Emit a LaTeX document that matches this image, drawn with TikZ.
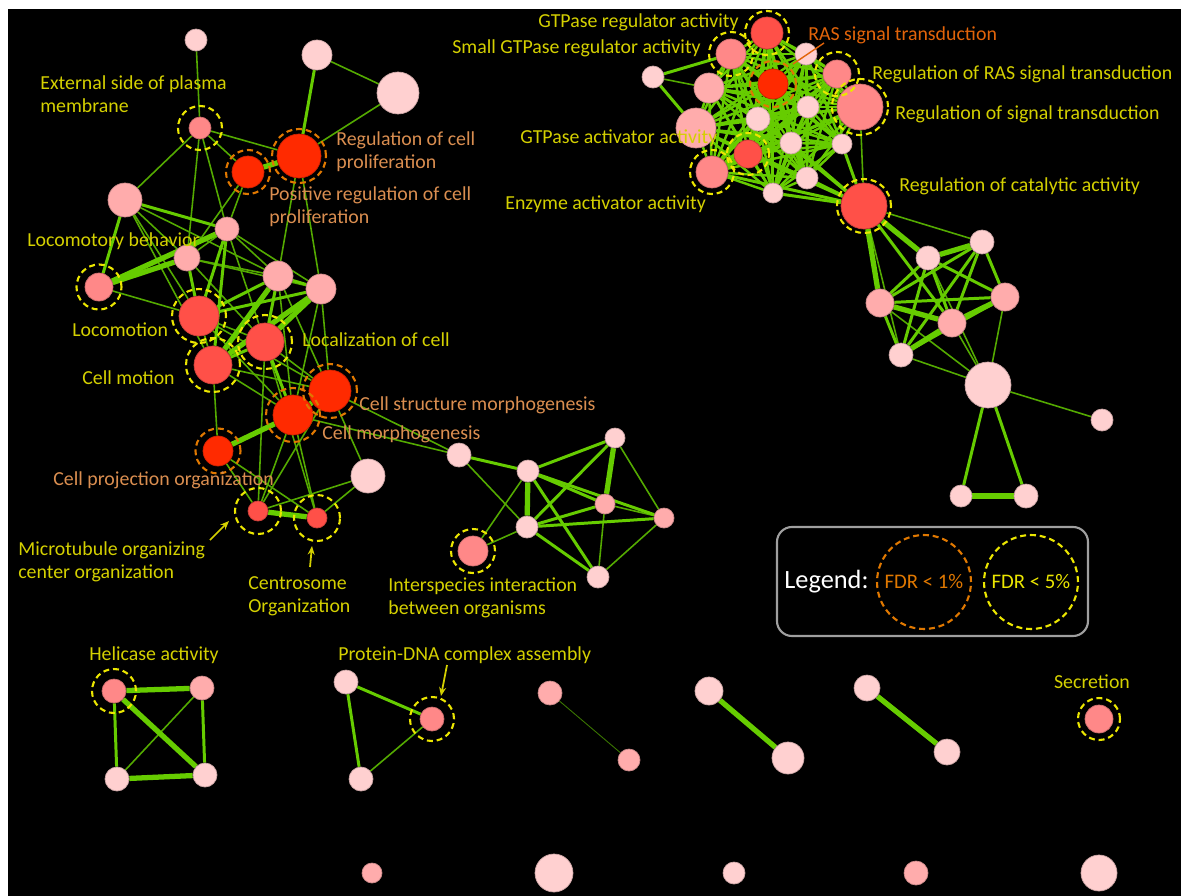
\documentclass[tikz,border=0pt]{standalone}
\usepackage{fontspec}
\setmainfont{Carlito}
\usetikzlibrary{positioning,backgrounds,arrows.meta}

\definecolor{pinkL}{RGB}{255,208,208}
\definecolor{pinkM}{RGB}{255,172,172}
\definecolor{salmon}{RGB}{255,136,136}
\definecolor{redM}{RGB}{255,80,72}
\definecolor{redH}{RGB}{255,42,0}
\definecolor{linkgreen}{RGB}{102,204,0}
\definecolor{weakgreen}{RGB}{84,170,0}
\definecolor{ringyellow}{RGB}{235,230,0}
\definecolor{ringorange}{RGB}{224,120,0}
\definecolor{labyellow}{RGB}{212,208,0}
\definecolor{laborange}{RGB}{218,142,80}
\definecolor{rasorange}{RGB}{226,100,10}

\newcommand{\lblfont}{\fontsize{11.3}{13}\selectfont}

\begin{document}
\begin{tikzpicture}
		[x=0.02cm,y=-0.02cm,
		go node/.style={shape=circle,fill=#1,draw=#1!80!black,line width=0.4pt,inner sep=0pt},
		rad/.style={minimum size=#1*0.04cm},
		weak edge/.style={draw=weakgreen,line width=0.9pt},
		mid edge/.style={draw=linkgreen,line width=1.7pt},
		strong edge/.style={draw=linkgreen,line width=3pt},
		mesh edge/.style={draw=linkgreen,line width=1.4pt},
		fdr five/.style={draw=ringyellow,line width=1.2pt,dash pattern=on 3.4pt off 2.2pt},
		fdr one/.style={draw=ringorange,line width=1.2pt,dash pattern=on 3.4pt off 2.2pt},
		yellow label/.style={text=labyellow,align=left,anchor=west,inner sep=0pt,font=\lblfont},
		orange label/.style={text=laborange,align=left,anchor=west,inner sep=0pt,font=\lblfont},
		pointer/.style={draw=labyellow,line width=1pt,-{Stealth[length=5pt,width=4pt]}}
		]
		
		\useasboundingbox (0,0) rectangle (1181,896);
		
		% proliferation / motility cluster
		\node [go node=pinkL, rad=11] (n1) at (196,40) {};
		\node [go node=pinkL, rad=15] (n2) at (317,55) {};
		\node [go node=pinkL, rad=21] (n3) at (398,93) {};
		\node [go node=salmon, rad=11] (ext) at (200,128) {};
		\node [go node=redH, rad=16] (posreg) at (248,172) {};
		\node [go node=redH, rad=22] (regprol) at (299,156) {};
		\node [go node=pinkM, rad=17] (n4) at (125,200) {};
		\node [go node=pinkM, rad=12] (n5) at (227,229) {};
		\node [go node=pinkM, rad=13] (n6) at (187,258) {};
		\node [go node=salmon, rad=14] (loco) at (99,287) {};
		\node [go node=pinkM, rad=15] (n7) at (278,276) {};
		\node [go node=pinkM, rad=15] (n8) at (321,289) {};
		\node [go node=redM, rad=20] (locomotion) at (199,316) {};
		\node [go node=redM, rad=19] (localization) at (265,342) {};
		\node [go node=redM, rad=19] (cellmotion) at (213,365) {};
		\node [go node=redH, rad=21] (cellstruct) at (330,391) {};
		\node [go node=redH, rad=20] (cellmorph) at (293,415) {};
		\node [go node=redH, rad=15] (cellproj) at (218,451) {};
		\node [go node=pinkL, rad=17] (n9) at (368,476) {};
		\node [go node=redM, rad=10] (microtub) at (258,511) {};
		\node [go node=redM, rad=10] (centro) at (317,518) {};
		
		% interspecies cluster
		\node [go node=pinkL, rad=12] (m1) at (459,455) {};
		\node [go node=pinkL, rad=11] (m2) at (528,471) {};
		\node [go node=pinkL, rad=10] (m3) at (615,438) {};
		\node [go node=pinkM, rad=10] (m4) at (605,504) {};
		\node [go node=pinkM, rad=10] (m5) at (664,518) {};
		\node [go node=pinkL, rad=11] (m6) at (527,527) {};
		\node [go node=pinkL, rad=11] (m7) at (598,577) {};
		\node [go node=salmon, rad=15] (inter) at (473,551) {};
		
		% GTPase cluster
		\node [go node=redM, rad=16] (gtpreg) at (767,33) {};
		\node [go node=salmon, rad=15] (smallgtp) at (731,54) {};
		\node [go node=pinkL, rad=11] (g1) at (653,77) {};
		\node [go node=redH, rad=15] (ras) at (773,84) {};
		\node [go node=pinkL, rad=11] (g2) at (806,54) {};
		\node [go node=salmon, rad=14] (regras) at (837,74) {};
		\node [go node=salmon, rad=23] (regsig) at (860,107) {};
		\node [go node=pinkM, rad=15] (g3) at (709,88) {};
		\node [go node=pinkM, rad=20] (gtpact) at (696,128) {};
		\node [go node=pinkL, rad=12] (g4) at (758,119) {};
		\node [go node=pinkL, rad=11] (g5) at (808,107) {};
		\node [go node=pinkL, rad=11] (g6) at (791,143) {};
		\node [go node=pinkL, rad=10] (g7) at (842,144) {};
		\node [go node=redM, rad=14] (g8) at (748,154) {};
		\node [go node=salmon, rad=16] (enzyme) at (712,172) {};
		\node [go node=pinkL, rad=11] (g9) at (807,178) {};
		\node [go node=pinkL, rad=10] (g10) at (773,193) {};
		\node [go node=redM, rad=23] (catal) at (864,206) {};
		
		% lower right cluster
		\node [go node=pinkL, rad=12] (r1) at (982,242) {};
		\node [go node=pinkL, rad=12] (r2) at (928,258) {};
		\node [go node=pinkM, rad=14] (r3) at (880,303) {};
		\node [go node=pinkM, rad=14] (r4) at (1005,297) {};
		\node [go node=pinkM, rad=14] (r5) at (952,323) {};
		\node [go node=pinkL, rad=12] (r6) at (901,355) {};
		\node [go node=pinkL, rad=23] (r7) at (988,385) {};
		\node [go node=pinkL, rad=11] (r8) at (1102,420) {};
		\node [go node=pinkL, rad=11] (r9) at (961,496) {};
		\node [go node=pinkL, rad=12] (r10) at (1026,496) {};
		
		% small groups
		\node [go node=salmon, rad=12] (hel) at (114,691) {};
		\node [go node=pinkM, rad=12] (h2) at (202,688) {};
		\node [go node=pinkL, rad=12] (h3) at (117,779) {};
		\node [go node=pinkL, rad=12] (h4) at (205,775) {};
		\node [go node=pinkL, rad=12] (p1) at (346,682) {};
		\node [go node=salmon, rad=12] (pdna) at (432,719) {};
		\node [go node=pinkL, rad=12] (p2) at (361,779) {};
		\node [go node=pinkM, rad=12] (b1) at (550,693) {};
		\node [go node=pinkM, rad=11] (b2) at (629,760) {};
		\node [go node=pinkL, rad=14] (b3) at (709,691) {};
		\node [go node=pinkL, rad=16] (b4) at (788,758) {};
		\node [go node=pinkL, rad=13] (b5) at (867,688) {};
		\node [go node=pinkL, rad=13] (b6) at (947,752) {};
		\node [go node=salmon, rad=14] (secr) at (1099,719) {};
		\node [go node=pinkM, rad=10] (z1) at (372,873) {};
		\node [go node=pinkL, rad=19] (z2) at (554,873) {};
		\node [go node=pinkL, rad=11] (z3) at (734,873) {};
		\node [go node=pinkM, rad=12] (z4) at (916,873) {};
		\node [go node=pinkL, rad=18] (z5) at (1099,873) {};
		
		\begin{scope}[on background layer]
		\fill[white] (0,0) rectangle (1181,896);
		\fill[black] (8,9) rectangle (1181,896);
		
		\path[weak edge]
		(n1) edge (ext) (n2) edge (n3) (n3) edge (regprol)
		(ext) edge (regprol) (ext) edge (posreg) (ext) edge (n4)
		(ext) edge (n5) (ext) edge (n6) (posreg) edge (n5) (posreg) edge (n6)
		(regprol) edge (n7) (regprol) edge (n8)
		(n4) edge (n6) (n4) edge (n7) (n4) edge (locomotion) (n4) edge (cellmotion)
		(n5) edge (n6) (n5) edge (localization) (n5) edge (n7) (n5) edge (n8)
		(n6) edge (n7) (n6) edge (n8) (n6) edge (localization)
		(loco) edge (locomotion)
		(n7) edge (cellstruct) (n7) edge (cellmorph)
		(n8) edge (cellstruct) (n8) edge (cellmorph)
		(locomotion) edge (localization) (locomotion) edge (cellmotion)
		(locomotion) edge (cellmorph) (locomotion) edge (cellstruct)
		(localization) edge (cellstruct) (localization) edge (microtub) (localization) edge (centro)
		(cellmotion) edge (cellproj) (cellmotion) edge (cellmorph) (cellmotion) edge (cellstruct)
		(cellstruct) edge (n9) (cellstruct) edge (m1) (cellmorph) edge (m1)
		(cellmorph) edge (microtub) (cellmorph) edge (centro) (cellstruct) edge (microtub)
		(cellproj) edge (microtub) (cellproj) edge (centro)
		(microtub) edge (n9) (centro) edge (n9)
		;
		\path[mid edge]
		(n2) edge (regprol) (n4) edge (n5) (n4) edge (loco)
		(n5) edge (locomotion) (n5) edge (cellmotion) (n6) edge (locomotion)
		(n7) edge (locomotion) (n7) edge (localization) (n7) edge (n8)
		(n8) edge (locomotion) (localization) edge (cellmotion) (localization) edge (cellmorph)
		;
		\path[strong edge]
		(posreg) edge (regprol) (n5) edge (loco) (n6) edge (loco)
		(n7) edge (cellmotion) (n8) edge (localization) (n8) edge (cellmotion)
		(cellstruct) edge (cellmorph) (cellmorph) edge (cellproj) (microtub) edge (centro)
		;
		
		\path[weak edge]
		(m1) edge (m6) (m2) edge (inter) (m3) edge (m5) (m4) edge (m5)
		(m4) edge (m7) (m5) edge (m7) (m6) edge (inter)
		;
		\path[mid edge]
		(m1) edge (m2) (m2) edge (m3) (m2) edge (m4) (m2) edge (m5) (m2) edge (m7)
		(m3) edge (m6) (m4) edge (m6) (m5) edge (m6) (m6) edge (m7)
		;
		\path[strong edge]
		(m2) edge (m6) (m3) edge (m4)
		;
		
		\foreach \a [count=\i] in {gtpreg,smallgtp,ras,g2,regras,regsig,g3,gtpact,g4,g5,g6,g7,g8,enzyme,g9,g10}
		\foreach \b [count=\j] in {gtpreg,smallgtp,ras,g2,regras,regsig,g3,gtpact,g4,g5,g6,g7,g8,enzyme,g9,g10}
		{\ifnum\i<\j \path[mesh edge] (\a) edge (\b); \fi}
		\path[mid edge]
		(g1) edge (smallgtp) (g1) edge (gtpact)
		(catal) edge (g7) (catal) edge (g9) (catal) edge (g10) (catal) edge (g6)
		(catal) edge (enzyme) (catal) edge (g8) (catal) edge (g4)
		;
		\path[weak edge]
		(g1) edge (g3) (catal) edge (regsig)
		;
		
		\path[weak edge]
		(catal) edge (r1) (catal) edge (r6)
		(r3) edge (r7) (r5) edge (r7) (r4) edge (r7) (r6) edge (r7) (r2) edge (r7)
		(r7) edge (r8)
		;
		\path[mid edge]
		(catal) edge (r5) (r1) edge (r3) (r1) edge (r4) (r1) edge (r5) (r1) edge (r6)
		(r2) edge (r3) (r2) edge (r4) (r2) edge (r5) (r2) edge (r6)
		(r3) edge (r4) (r3) edge (r6) (r4) edge (r6)
		(r7) edge (r9) (r7) edge (r10)
		;
		\path[strong edge]
		(catal) edge (r2) (catal) edge (r3) (r1) edge (r2)
		(r3) edge (r5) (r4) edge (r5) (r5) edge (r6) (r9) edge (r10)
		;
		
		\path[weak edge]
		(h2) edge (h3) (pdna) edge (p2)
		;
		\path[mid edge]
		(hel) edge (h3) (h2) edge (h4) (p1) edge (pdna) (p1) edge (p2)
		;
		\path[strong edge]
		(hel) edge (h2) (hel) edge (h4) (h3) edge (h4)
		(b3) edge (b4) (b5) edge (b6)
		;
		\path[draw=weakgreen!70!black,line width=0.5pt] (b1) edge (b2);
		\end{scope}
		
		% FDR rings
		\draw[fdr five] (ext) circle (0.44cm);
		\draw[fdr one] (posreg) circle (0.44cm);
		\draw[fdr one] (regprol) circle (0.54cm);
		\draw[fdr five] (loco) circle (0.45cm);
		\draw[fdr five] (locomotion) circle (0.54cm);
		\draw[fdr five] (localization) circle (0.54cm);
		\draw[fdr five] (cellmotion) circle (0.54cm);
		\draw[fdr one] (cellstruct) circle (0.54cm);
		\draw[fdr one] (cellmorph) circle (0.54cm);
		\draw[fdr one] (cellproj) circle (0.45cm);
		\draw[fdr five] (microtub) circle (0.46cm);
		\draw[fdr five] (centro) circle (0.46cm);
		\draw[fdr five] (inter) circle (0.44cm);
		\draw[fdr five] (gtpreg) circle (0.44cm);
		\draw[fdr five] (smallgtp) circle (0.44cm);
		\draw[fdr one] (ras) circle (0.46cm);
		\draw[fdr five] (regras) circle (0.44cm);
		\draw[fdr five] (regsig) circle (0.56cm);
		\draw[fdr five] (g8) circle (0.42cm);
		\draw[fdr five] (enzyme) circle (0.44cm);
		\draw[fdr five] (catal) circle (0.54cm);
		\draw[fdr five] (hel) circle (0.44cm);
		\draw[fdr five] (pdna) circle (0.44cm);
		\draw[fdr five] (secr) circle (0.42cm);
		
		% labels
		\node [yellow label] (lExt) at (40,94) {External side of plasma\\membrane};
		\node [orange label] (lRegprol) at (336,152) {Regulation of cell\\proliferation};
		\node [orange label] (lPosreg) at (269,207) {Positive regulation of cell\\proliferation};
		\node [yellow label] (lLocb) at (27,241) {Locomotory behavior};
		\node [yellow label] (lLocm) at (72,330) {Locomotion};
		\node [yellow label] (lLocal) at (302,340) {Localization of cell};
		\node [yellow label] (lMotion) at (82,378) {Cell motion};
		\node [orange label] (lStruct) at (359,405) {Cell structure morphogenesis};
		\node [orange label] (lMorph) at (322,434) {Cell morphogenesis};
		\node [orange label] (lProj) at (53,480) {Cell projection organization};
		\node [yellow label] (lMicro) at (18,562) {Microtubule organizing\\center organization};
		\node [yellow label] (lCentro) at (248,596) {Centrosome\\Organization};
		\node [yellow label] (lInter) at (388,598) {Interspecies interaction\\between organisms};
		\node [yellow label] (lGreg) at (538,22) {GTPase regulator activity};
		\node [yellow label] (lSmall) at (452,48) {Small GTPase regulator activity};
		\node [orange label, text=rasorange] (lRas) at (808,35) {RAS signal transduction};
		\node [yellow label] (lRegras) at (872,74) {Regulation of RAS signal transduction};
		\node [yellow label] (lRegsig) at (895,114) {Regulation of signal transduction};
		\node [yellow label] (lGact) at (520,138) {GTPase activator activity};
		\node [yellow label] (lEnz) at (505,204) {Enzyme activator activity};
		\node [yellow label] (lCatal) at (899,186) {Regulation of catalytic activity};
		\node [yellow label] (lHel) at (89,655) {Helicase activity};
		\node [yellow label] (lPdna) at (338,655) {Protein-DNA complex assembly};
		\node [yellow label, anchor=center] (lSecr) at (1092,682) {Secretion};
		
		% pointers
		\coordinate (mtTail) at (210,540);
		\coordinate (mtHead) at (229,521);
		\coordinate (ctTail) at (310,567);
		\coordinate (ctHead) at (312,546);
		\coordinate (pdTail) at (447,665);
		\coordinate (pdHead) at (441,696);
		\coordinate (rasTail) at (824,43);
		\coordinate (rasHead) at (793,64);
		\draw[pointer] (mtTail) -- (mtHead);
		\draw[pointer] (ctTail) -- (ctHead);
		\draw[pointer] (pdTail) -- (pdHead);
		\draw[draw=rasorange,line width=0.8pt] (rasTail) -- (rasHead);
		
		% legend
		\draw[draw=gray!75,line width=1.2pt,rounded corners=0.3cm] (777,527) rectangle (1088,636);
		\node [text=white,anchor=west,inner sep=0pt,font=\fontsize{15}{17}\selectfont] (legText) at (784,582) {Legend:};
		\node [fdr one,shape=circle,rad=47,inner sep=0pt,text=ringorange,font=\fontsize{11.8}{14}\selectfont] (legOne) at (924,582) {FDR < 1\%};
		\node [fdr five,shape=circle,rad=47,inner sep=0pt,text=ringyellow,font=\fontsize{11.8}{14}\selectfont] (legFive) at (1031,582) {FDR < 5\%};
		
		\end{tikzpicture}
\end{document}
